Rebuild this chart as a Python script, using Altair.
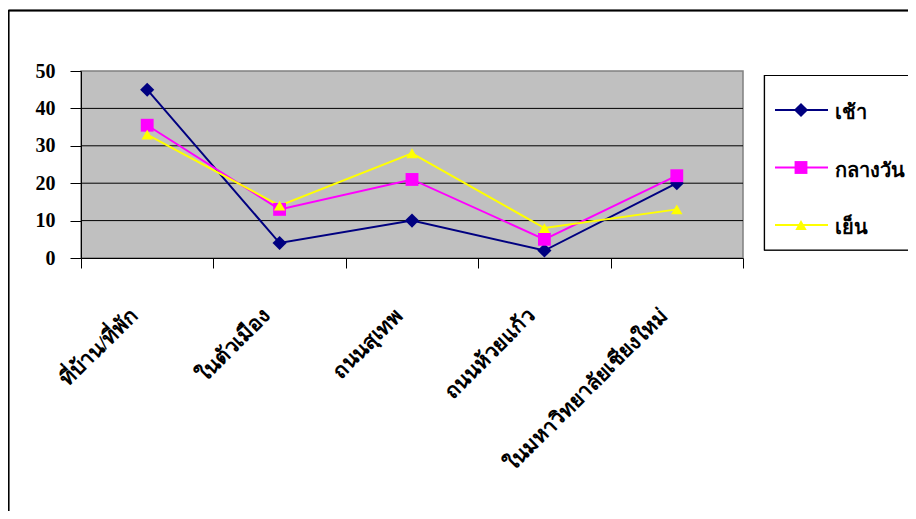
import altair as alt
import pandas as pd

categories = ["ที่บ้าน/ที่พัก", "ในตัวเมือง", "ถนนสุเทพ", "ถนนห้วยแก้ว", "ในมหาวิทยาลัยเชียงใหม่"]
series_names = ["เช้า", "กลางวัน", "เย็น"]
morning = [45, 4, 10, 2, 20]
noon = [35.5, 13, 21, 5, 22]
evening = [33, 14, 28, 8, 13]
y_ticks = [0, 10, 20, 30, 40, 50]
series_colors = ["#000080", "#FF00FF", "#FFFF00"]
series_shapes = ["diamond", "square", "triangle-up"]

rows = []
for name, vals in zip(series_names, [morning, noon, evening]):
    for c, v in zip(categories, vals):
        rows.append({"category": c, "series": name, "value": v})
df = pd.DataFrame(rows)
grid_df = pd.DataFrame({"value": y_ticks[1:-1]})
legend_df = pd.DataFrame({"series": series_names})

THAI = "Liberation Serif, DejaVu Serif, DejaVu Sans, serif"

color = alt.Color("series:N", scale=alt.Scale(domain=series_names, range=series_colors), legend=None)
shape = alt.Shape("series:N", scale=alt.Scale(domain=series_names, range=series_shapes), legend=None)
size = alt.Size("series:N", scale=alt.Scale(domain=series_names, range=[200, 130, 420]), legend=None)

xscale = alt.Scale(domain=categories, paddingInner=0, paddingOuter=0)
xenc = alt.X(
    "category:N",
    sort=categories,
    scale=xscale,
    axis=alt.Axis(
        title=None, tickBand="extent", tickSize=10, tickColor="black", domainColor="black",
        labelAngle=315, labelAlign="right", labelBaseline="middle", labelPadding=44,
        labelOffset=-13, labelFontSize=21, labelFont=THAI, labelFontWeight="bold",
        labelColor="black", labelLimit=500, grid=False,
    ),
)
yscale = alt.Scale(domain=[0, 50], nice=False)
yenc = alt.Y(
    "value:Q",
    scale=yscale,
    axis=alt.Axis(
        values=y_ticks, title=None, tickSize=11, tickColor="black", domainColor="black",
        labelFont="Liberation Serif", labelFontWeight="bold", labelFontSize=20,
        labelPadding=15, labelColor="black", grid=False,
    ),
)

grid = alt.Chart(grid_df).mark_rule(color="black", strokeWidth=1).encode(
    y=alt.Y("value:Q", scale=yscale, axis=None)
)

lines = alt.Chart(df).mark_line(strokeWidth=2).encode(x=xenc, y=yenc, color=color, detail="series:N")
points = alt.Chart(df).mark_point(filled=True, opacity=1).encode(
    x=xenc,
    y=alt.Y("value:Q", scale=yscale, axis=None),
    color=color, shape=shape, size=size,
)

# outer frame
frame_top = alt.Chart(legend_df).mark_rule(color="black", strokeWidth=1.5).encode(
    x=alt.value(-72.5), x2=alt.value(900), y=alt.value(-60.5)
)
frame_left = alt.Chart(legend_df).mark_rule(color="black", strokeWidth=1.5).encode(
    x=alt.value(-72.5), y=alt.value(-60.5), y2=alt.value(500)
)

# legend
leg_box = alt.Chart(legend_df).mark_rect(fill="white", stroke="black", strokeWidth=1.2).encode(
    x=alt.value(683.5), x2=alt.value(900), y=alt.value(4.5), y2=alt.value(179)
)
leg_y = alt.Y("series:N", scale=alt.Scale(type="point", domain=series_names, range=[39, 154], padding=0), axis=None)
leg_line = alt.Chart(legend_df).mark_rule(strokeWidth=2).encode(
    x=alt.value(694), x2=alt.value(747), y=leg_y, color=color
)
leg_pt = alt.Chart(legend_df).mark_point(filled=True, opacity=1).encode(
    x=alt.value(720), y=leg_y, color=color, shape=shape, size=size
)
leg_txt = alt.Chart(legend_df).mark_text(
    align="left", baseline="middle", font=THAI, fontSize=20, fontWeight="bold", color="black", dy=3
).encode(x=alt.value(754), y=leg_y, text="series:N")

chart = alt.layer(
    frame_top, frame_left, grid, lines, points, leg_box, leg_line, leg_pt, leg_txt
).resolve_scale(y="independent").properties(
    width=662, height=187,
    autosize=alt.AutoSizeParams(type="none"),
    padding={"left": 73, "top": 63, "right": 165, "bottom": 253},
    background="white",
).configure_view(fill="#C0C0C0", stroke="#808080", strokeWidth=1.5)

chart.save("out.html", embed_options={"renderer": "svg", "actions": False})
